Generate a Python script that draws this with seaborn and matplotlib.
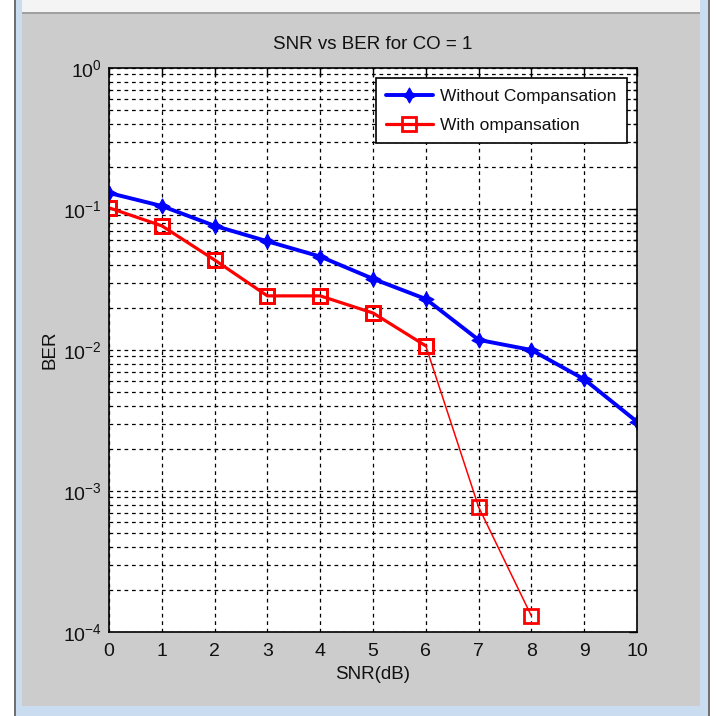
import numpy as np
import pandas as pd
import matplotlib
matplotlib.use("Agg")
import matplotlib.pyplot as plt
from matplotlib.patches import Rectangle
from matplotlib.ticker import LogLocator, NullFormatter
import seaborn as sns

# data
snr_db = [0, 1, 2, 3, 4, 5, 6, 7, 8, 9, 10]
ber_without = [0.130, 0.105, 0.076, 0.059, 0.046, 0.032, 0.023, 0.0118, 0.0100, 0.0062, 0.0031]
snr_with = [0, 1, 2, 3, 4, 5, 6, 7, 8]
ber_with = [0.102, 0.076, 0.0435, 0.0242, 0.0242, 0.0183, 0.0107, 0.00077, 0.00013]
x_ticks = list(range(0, 11))

df_wo = pd.DataFrame({"SNR": snr_db, "BER": ber_without})
df_w = pd.DataFrame({"SNR": snr_with, "BER": ber_with})

sns.set_style("white")
plt.rcParams["font.family"] = ["Liberation Sans", "DejaVu Sans"]
plt.rcParams["mathtext.fontset"] = "custom"
plt.rcParams["mathtext.rm"] = "Liberation Sans"
plt.rcParams["mathtext.it"] = "Liberation Sans"
plt.rcParams["text.color"] = "#111111"

W, H = 717, 716
fig = plt.figure(figsize=(W / 100, H / 100), dpi=100)
fig.patch.set_facecolor("#cccccc")

# window frame look (screenshot chrome)
def px_rect(x, y, w, h, color, z=0):
    fig.add_artist(Rectangle((x / W, 1 - (y + h) / H), w / W, h / H,
                             transform=fig.transFigure, facecolor=color,
                             edgecolor="none", zorder=z))

px_rect(0, 0, W, 12, "#f4f4f4")
px_rect(0, 12, W, 1.5, "#a0a0a0")
px_rect(0, 0, 14, H, "#ffffff")
px_rect(14, 0, 2, H, "#707070")
px_rect(16, 0, 6, H, "#c9dcf0")
px_rect(700, 0, 8, H, "#c9dcf0")
px_rect(708, 0, 2, H, "#707070")
px_rect(710, 0, 7, H, "#ffffff")
px_rect(16, 706, 692, 10, "#c9dcf0")

ax = fig.add_axes([109 / W, 1 - 632 / H, (637 - 109) / W, (632 - 68) / H])
ax.set_facecolor("white")

sns.lineplot(data=df_wo, x="SNR", y="BER", ax=ax, color="#0000ff", lw=2.8,
             marker=(4, 1, 0), markersize=11, markeredgecolor="#0000ff",
             label="Without Compansation")
# thin full red curve, thick part up to 6 dB
sns.lineplot(data=df_w, x="SNR", y="BER", ax=ax, color="#ff0000", lw=1.1,
             marker="s", markersize=9.5, markerfacecolor="none",
             markeredgecolor="#ff0000", markeredgewidth=2, legend=False)
sns.lineplot(data=df_w[df_w["SNR"] <= 6], x="SNR", y="BER", ax=ax, color="#ff0000",
             lw=2.3, marker="s", markersize=9.5, markerfacecolor="none",
             markeredgecolor="#ff0000", markeredgewidth=2,
             label="With ompansation")

ax.set_yscale("log")
ax.set_ylim(1e-4, 1)
ax.set_xlim(0, 10)
ax.set_xticks(x_ticks)
ax.yaxis.set_major_locator(LogLocator(base=10, numticks=10))
ax.yaxis.set_minor_locator(LogLocator(base=10, subs=np.arange(2, 10), numticks=20))
ax.yaxis.set_minor_formatter(NullFormatter())

ax.grid(True, which="major", axis="both", color="black", linestyle=(0, (3, 3)), lw=0.9)
ax.grid(True, which="minor", axis="y", color="black", linestyle=(0, (3, 3)), lw=0.9)
ax.tick_params(which="both", direction="in", top=True, right=True, colors="black",
               labelcolor="#111111", labelsize=14, pad=8)
ax.tick_params(axis="y", which="major", pad=5)
ax.tick_params(which="major", length=6, width=1)
ax.tick_params(which="minor", length=3, width=1)
for s in ax.spines.values():
    s.set_color("black")
    s.set_linewidth(1.2)

ax.set_title("SNR vs BER for CO = 1", fontsize=13.5, pad=14, color="#111111")
ax.set_xlabel("SNR(dB)", fontsize=13.5, labelpad=4, color="#111111")
ax.set_ylabel("BER", fontsize=13.5, color="#111111")
ax.yaxis.set_label_coords(-0.096, 0.5)

leg = ax.legend(loc="upper right", fontsize=12.5, frameon=True, fancybox=False,
                borderaxespad=0.6, handlelength=2.7, handletextpad=0.4,
                borderpad=0.6, labelspacing=0.8)
leg.get_frame().set_edgecolor("black")
leg.get_frame().set_linewidth(1.2)
leg.get_frame().set_alpha(1)

fig.savefig("out.png", dpi=100, facecolor=fig.get_facecolor())
